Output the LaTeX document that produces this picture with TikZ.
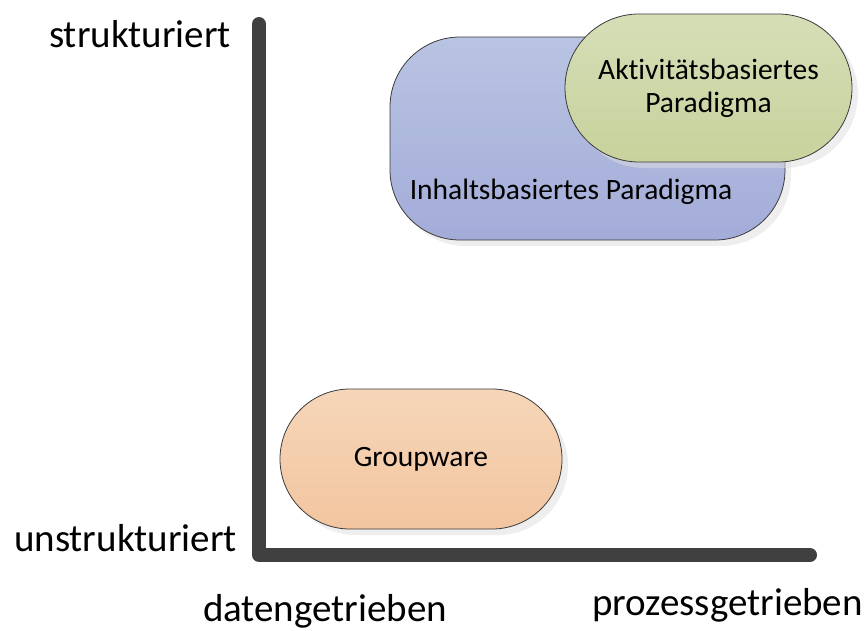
\documentclass[tikz,border=0pt]{standalone}
\usepackage{fontspec}
\setmainfont{Carlito}[Ligatures={NoCommon,NoRare}]
\usetikzlibrary{shapes.misc,shadows}

\definecolor{axisgray}{HTML}{404040}
\definecolor{edgegray}{HTML}{3A3A3A}
\definecolor{blueTop}{HTML}{B9C4E3}
\definecolor{blueBot}{HTML}{A3ACD8}
\definecolor{greenTop}{HTML}{D6DEB7}
\definecolor{greenBot}{HTML}{C7D29C}
\definecolor{orangeTop}{HTML}{F6D6B9}
\definecolor{orangeBot}{HTML}{F2C59F}

\tikzset{
  axisline/.style={draw=axisgray, line width=14pt, line cap=round, line join=round},
  axislabel/.style={font=\fontsize{39}{46}\selectfont, inner sep=0pt},
  boxlabel/.style={font=\fontsize{29.5}{33}\selectfont, inner sep=0pt, align=center},
  softshadow/.style={drop shadow={shadow xshift=6pt, shadow yshift=-6pt, fill=black!13}},
  area/.style={draw=edgegray, line width=0.8pt, softshadow, inner sep=0pt},
}

\begin{document}
\begin{tikzpicture}[x=1pt, y=-1pt]
\useasboundingbox (0,0) rectangle (868,630);

% coordinate axes
\coordinate (ytop) at (259,24);
\coordinate (origin) at (259,555);
\coordinate (xend) at (810,555);
\draw[axisline] (ytop) -- (origin) -- (xend);

% axis labels
\node[axislabel, anchor=east] (lstruct) at (231,34) {strukturiert};
\node[axislabel, anchor=east] (lunstruct) at (237,538) {unstrukturiert};
\node[axislabel] (ldaten) at (325,611) {datengetrieben};
\node[axislabel, anchor=east] (lprozess) at (863,605) {prozessgetrieben};

% content-based paradigm
\node[area, rounded corners=70pt, minimum width=395pt, minimum height=203pt,
      top color=blueTop, bottom color=blueBot] (inhalt) at (587.5,138.5) {};
\node[boxlabel] (inhaltlabel) at (571,192) {Inhaltsbasiertes Paradigma};

% activity-based paradigm
\node[area, rounded rectangle, minimum width=287pt, minimum height=148pt,
      top color=greenTop, bottom color=greenBot, boxlabel] (aktiv) at (708.5,88)
      {Aktivitätsbasiertes\\Paradigma};

% groupware
\node[area, rounded rectangle, minimum width=282pt, minimum height=140pt,
      top color=orangeTop, bottom color=orangeBot, boxlabel] (groupware) at (421,459)
      {Groupware};
\end{tikzpicture}
\end{document}
